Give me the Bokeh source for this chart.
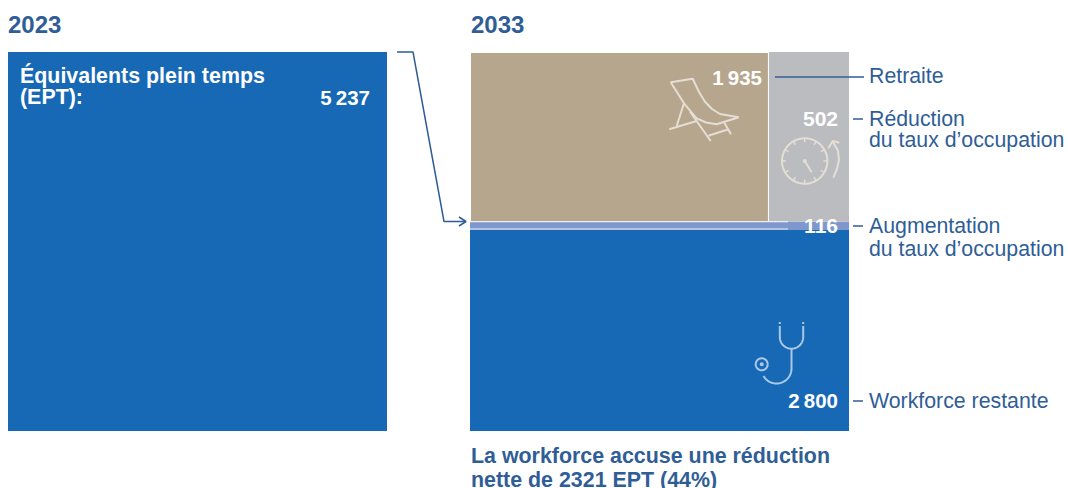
import numpy as np
from bokeh.plotting import figure
from bokeh.embed import file_html
from bokeh.resources import INLINE
from bokeh.core.properties import value

total_2023 = 5237
retraite = 1935
reduction = 502
augmentation = 116
restante = 2800
years = ["2023", "2033"]
labels = ["Retraite", "Réduction", "du taux d’occupation", "Augmentation", "du taux d’occupation", "Workforce restante"]
num_labels = ["5\u2009237", "1\u2009935", "502", "116", "2\u2009800"]

BLUE, TAN, GRAY, LIGHT = "#1769B5", "#B6A68D", "#BBBCC0", "#7E98CE"
INK, ICON = "#2F5E97", "#E4DED4"
FONT = value("Liberation Sans")

p = figure(width=1068, height=488, x_range=(0.5, 1068.5), y_range=(488.5, 0.5),
           output_backend="svg", toolbar_location=None, min_border=0,
           outline_line_color=None, background_fill_color="white")
p.axis.visible = False
p.grid.visible = False

# EPT units to page pixels: the 2023 square is 379 px for its total
S = 379 / total_2023
S2 = 201 / restante
BOTTOM = 431
LX, RX = 8, 470
side = total_2023 * S

def box(x0, x1, y0, y1, c):
    p.quad(left=[x0], right=[x1], top=[y0], bottom=[y1], fill_color=c, line_color=None)

def seg(xs, ys, c=INK, w=1.5):
    p.line(xs, ys, line_color=c, line_width=w)

def txt(x, y, s, size, c, bold=False, align="left"):
    # alphabetic text sits about 8 px under the given y here
    p.text([x - 1], [y - 8], text=[s], text_font=FONT, text_font_size=f"{size}px", text_color=c,
           text_font_style="bold" if bold else "normal", text_align=align, text_baseline="alphabetic")

# 2023
box(LX, LX + side, BOTTOM - side, BOTTOM, BLUE)

# 2033
y_rest = BOTTOM - restante * S2
y_aug = y_rest - augmentation * S2
box(RX, RX + side, y_rest, BOTTOM, BLUE)
box(RX, RX + side, y_aug, y_rest, LIGHT)
tan_w = side * retraite / (retraite + reduction) - 3
box(RX + tan_w + 1, RX + side, BOTTOM - side, y_aug, GRAY)
box(RX + 1, RX + tan_w, BOTTOM - side + 1, y_aug, TAN)
seg([RX, 788], [y_aug, y_aug], "#EDEDF2", 1.2)
seg([RX, 788], [y_rest - 1, y_rest - 1], "#EDEDF2", 1.2)

# titles
txt(9, 32, years[0], 24, INK, True)
txt(472, 32, years[1], 24, INK, True)

# values
txt(21, 84, "Équivalents plein temps", 21.4, "white", True)
txt(21, 105, "(EPT):", 21.4, "white", True)
txt(371, 105, num_labels[0], 20.5, "white", True, "right")
txt(763, 85, num_labels[1], 20.5, "white", True, "right")
txt(839, 127, num_labels[2], 21, "white", True, "right")
txt(839, 234, num_labels[3], 21, "white", True, "right")
txt(839, 408, num_labels[4], 20.5, "white", True, "right")

# right labels
txt(870, 84, labels[0], 21.3, INK)
txt(870, 127, labels[1], 21.3, INK)
txt(870, 148, labels[2], 21.3, INK)
txt(870, 234, labels[3], 21.3, INK)
txt(870, 257, labels[4], 21.3, INK)
txt(870, 409, labels[5], 21.3, INK)

# bottom note
txt(472, 464, "La workforce accuse une réduction", 21.4, INK, True)
txt(472, 488, "nette de 2321 EPT (44%)", 21.4, INK, True)

# leaders
seg([775, 864], [77, 77])
seg([853, 863], [119, 119])
seg([853, 863], [226, 226])
seg([853, 863], [401, 401])

# connector
seg([397, 413, 444, 466], [52, 52, 221.5, 221.5])
seg([459, 466, 459], [217, 221.5, 226])

def arc(cx, cy, r, a0, a1, n=40):
    a = np.radians(np.linspace(a0, a1, n))
    return cx + r * np.cos(a), cy + r * np.sin(a)

ICON_W = 2
# deck chair icon
for xs, ys in [
    ([670.7, 692.7, 699, 705, 712, 720, 738.7], [82.3, 78.7, 92, 101.7, 109, 114, 117.3]),
    ([670.7, 684, 696.7, 706, 716.7, 738.7], [82.3, 103.3, 118.3, 122.5, 124.3, 117.3]),
    ([684, 676.7], [103.3, 126]),
    ([669.3, 696.7], [129.3, 121]),
    ([690, 710.7], [111.7, 141]),
    ([708.3, 728.7], [135.7, 129.3]),
    ([724.3, 731], [122.7, 134.3]),
]:
    seg(xs, ys, ICON, ICON_W)

# clock icon
cx, cy, r = 804.7, 161, 22.7
seg(*arc(cx, cy, r, 0, 360, 80), ICON, ICON_W)
for a in np.arange(0, 360, 30):
    c, s = np.cos(np.radians(a)), np.sin(np.radians(a))
    seg([cx + r * c, cx + (r - 4) * c], [cy + r * s, cy + (r - 4) * s], ICON, 1.5)
seg([cx, 811.7], [cy, 172.3], ICON, ICON_W)
p.scatter([cx], [cy], size=4, fill_color=ICON, line_color=None)
seg([833.3, 837, 839, 838, 832.7], [177.7, 169, 160, 151, 141.5], ICON, ICON_W)
seg([828.3, 832.7, 839.3], [148.3, 141, 142.7], ICON, ICON_W)

# stethoscope icon
STH = "#A9C8E6"
sx, sy = arc(791.5, 337, 11.7, 180, 0)
seg(np.r_[779.8, sx, 803.2], np.r_[326, sy, 326], STH, ICON_W)
seg([779.8, 779.8], [322, 324], STH, ICON_W)
seg([803.2, 803.2], [322, 324], STH, ICON_W)
bx, by = arc(776.5, 368.5, 15, 0, 150)
seg(np.r_[791.5, bx], np.r_[348.7, by], STH, ICON_W)
seg(*arc(761.7, 364.3, 6, 0, 360), STH, ICON_W)
p.scatter([761.7], [364.3], size=4, fill_color=STH, line_color=None)

open("out.html", "w").write(file_html(p, INLINE))
